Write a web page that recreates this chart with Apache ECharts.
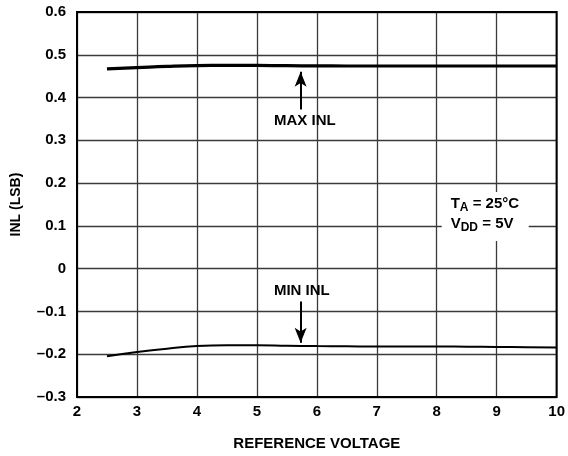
<!DOCTYPE html>
<html>
<head>
<meta charset="utf-8">
<script src="https://cdn.jsdelivr.net/npm/echarts@6/dist/echarts.min.js"></script>
<style>html,body{margin:0;padding:0;background:#fff}#c{width:568px;height:456px}</style>
</head>
<body>
<div id="c"></div>
<script>
var xValues = [2.5, 3, 3.5, 4, 4.5, 5, 5.5, 6, 6.5, 7, 7.5, 8, 8.5, 9, 9.5, 10];
var maxInl  = [0.467, 0.470, 0.473, 0.4748, 0.4752, 0.4750, 0.4745, 0.4740, 0.4738, 0.4738, 0.4738, 0.4738, 0.4738, 0.4738, 0.4738, 0.4738];
var minInl  = [-0.205, -0.195, -0.187, -0.181, -0.179, -0.179, -0.180, -0.181, -0.1815, -0.182, -0.182, -0.182, -0.1825, -0.183, -0.1835, -0.184];
var xTicks = [2, 3, 4, 5, 6, 7, 8, 9, 10];
var yTicks = [-0.3, -0.2, -0.1, 0, 0.1, 0.2, 0.3, 0.4, 0.5, 0.6];
var maxArrow = [[5.73, 0.372], [5.73, 0.4605]];
var minArrow = [[5.73, -0.077], [5.73, -0.173]];
var maxLabel = {text: 'MAX INL', x: 5.8, y: 0.346};
var minLabel = {text: 'MIN INL', x: 5.75, y: -0.051};
var condAnchor = [9, 0.1];

var FONT = 'Liberation Sans, Arial, sans-serif';
var FS = 15;
var chart = echarts.init(document.getElementById('c'));

function pairs(xs, ys) { return xs.map(function (x, i) { return [x, ys[i]]; }); }
function fmtY(v) {
  if (Math.abs(v) < 1e-9) return '0';
  return v.toFixed(1).replace('-', '\u2013');
}

chart.setOption({
  animation: false,
  grid: {left: 77, right: 9, top: 12, bottom: 58},
  xAxis: {
    type: 'value', min: xTicks[0], max: xTicks[xTicks.length - 1], interval: 1,
    name: 'REFERENCE VOLTAGE', nameLocation: 'middle', nameGap: 39,
    nameTextStyle: {fontFamily: FONT, fontWeight: 'bold', fontSize: FS, color: '#000'},
    axisLine: {show: false},
    axisTick: {show: false},
    axisLabel: {margin: 7, fontFamily: FONT, fontWeight: 'bold', fontSize: FS, color: '#000'},
    splitLine: {show: true, lineStyle: {color: '#3a3a3a', width: 1.3}}
  },
  yAxis: {
    type: 'value', min: yTicks[0], max: yTicks[yTicks.length - 1], interval: 0.1,
    name: 'INL (LSB)', nameLocation: 'middle', nameGap: 54,
    nameTextStyle: {fontFamily: FONT, fontWeight: 'bold', fontSize: FS - 1, color: '#000'},
    axisLine: {show: false},
    axisTick: {show: false},
    axisLabel: {margin: 11, fontFamily: FONT, fontWeight: 'bold', fontSize: FS, color: '#000', formatter: fmtY},
    splitLine: {show: true, lineStyle: {color: '#3a3a3a', width: 1.3}}
  },
  series: [
    {
      type: 'line', data: pairs(xValues, maxInl), smooth: true, showSymbol: false,
      lineStyle: {color: '#000', width: 3.2}, z: 5,
      markLine: {
        silent: true, symbol: ['none', 'arrow'], symbolSize: [9, 15],
        lineStyle: {color: '#000', width: 2, type: 'solid'}, label: {show: false},
        data: [[{coord: maxArrow[0]}, {coord: maxArrow[1]}]]
      }
    },
    {
      type: 'line', data: pairs(xValues, minInl), smooth: true, showSymbol: false,
      lineStyle: {color: '#000', width: 2}, z: 5,
      markLine: {
        silent: true, symbol: ['none', 'arrow'], symbolSize: [9, 15],
        lineStyle: {color: '#000', width: 2, type: 'solid'}, label: {show: false},
        data: [[{coord: minArrow[0]}, {coord: minArrow[1]}]]
      }
    }
  ]
});

function px(p) { return chart.convertToPixel({gridIndex: 0}, p); }
var gr = chart.getModel().getComponent('grid').coordinateSystem.getRect();
var pMax = px([maxLabel.x, maxLabel.y]);
var pMin = px([minLabel.x, minLabel.y]);
var pC = px(condAnchor);
var tStyle = {fontFamily: FONT, fontWeight: 'bold', fontSize: FS, fill: '#000'};

chart.setOption({
  graphic: [
    {type: 'rect', shape: {x: gr.x, y: gr.y, width: gr.width, height: gr.height},
     style: {fill: 'none', stroke: '#000', lineWidth: 2}, z: 20, silent: true},
    {type: 'text', x: pMax[0], y: pMax[1], z: 20,
     style: Object.assign({text: maxLabel.text, align: 'center', verticalAlign: 'middle'}, tStyle)},
    {type: 'text', x: pMin[0], y: pMin[1], z: 20,
     style: Object.assign({text: minLabel.text, align: 'center', verticalAlign: 'middle'}, tStyle)},
    {type: 'rect', shape: {x: pC[0] - 55, y: pC[1] - 34, width: 87, height: 49},
     style: {fill: '#fff'}, z: 15, silent: true},
    {type: 'text', x: pC[0] - 46, y: pC[1] - 12, z: 20,
     style: {
       text: '{b|T}{s|A}{b| = 25°C}\n{b|V}{s|DD}{b| = 5V}',
       align: 'left', verticalAlign: 'middle', lineHeight: 20,
       rich: {
         b: {fontFamily: FONT, fontWeight: 'bold', fontSize: FS, fill: '#000', lineHeight: 20},
         s: {fontFamily: FONT, fontWeight: 'bold', fontSize: 12, fill: '#000', verticalAlign: 'bottom', padding: [6, 0, 0, 0], lineHeight: 20}
       }
     }}
  ]
});
</script>
</body>
</html>
